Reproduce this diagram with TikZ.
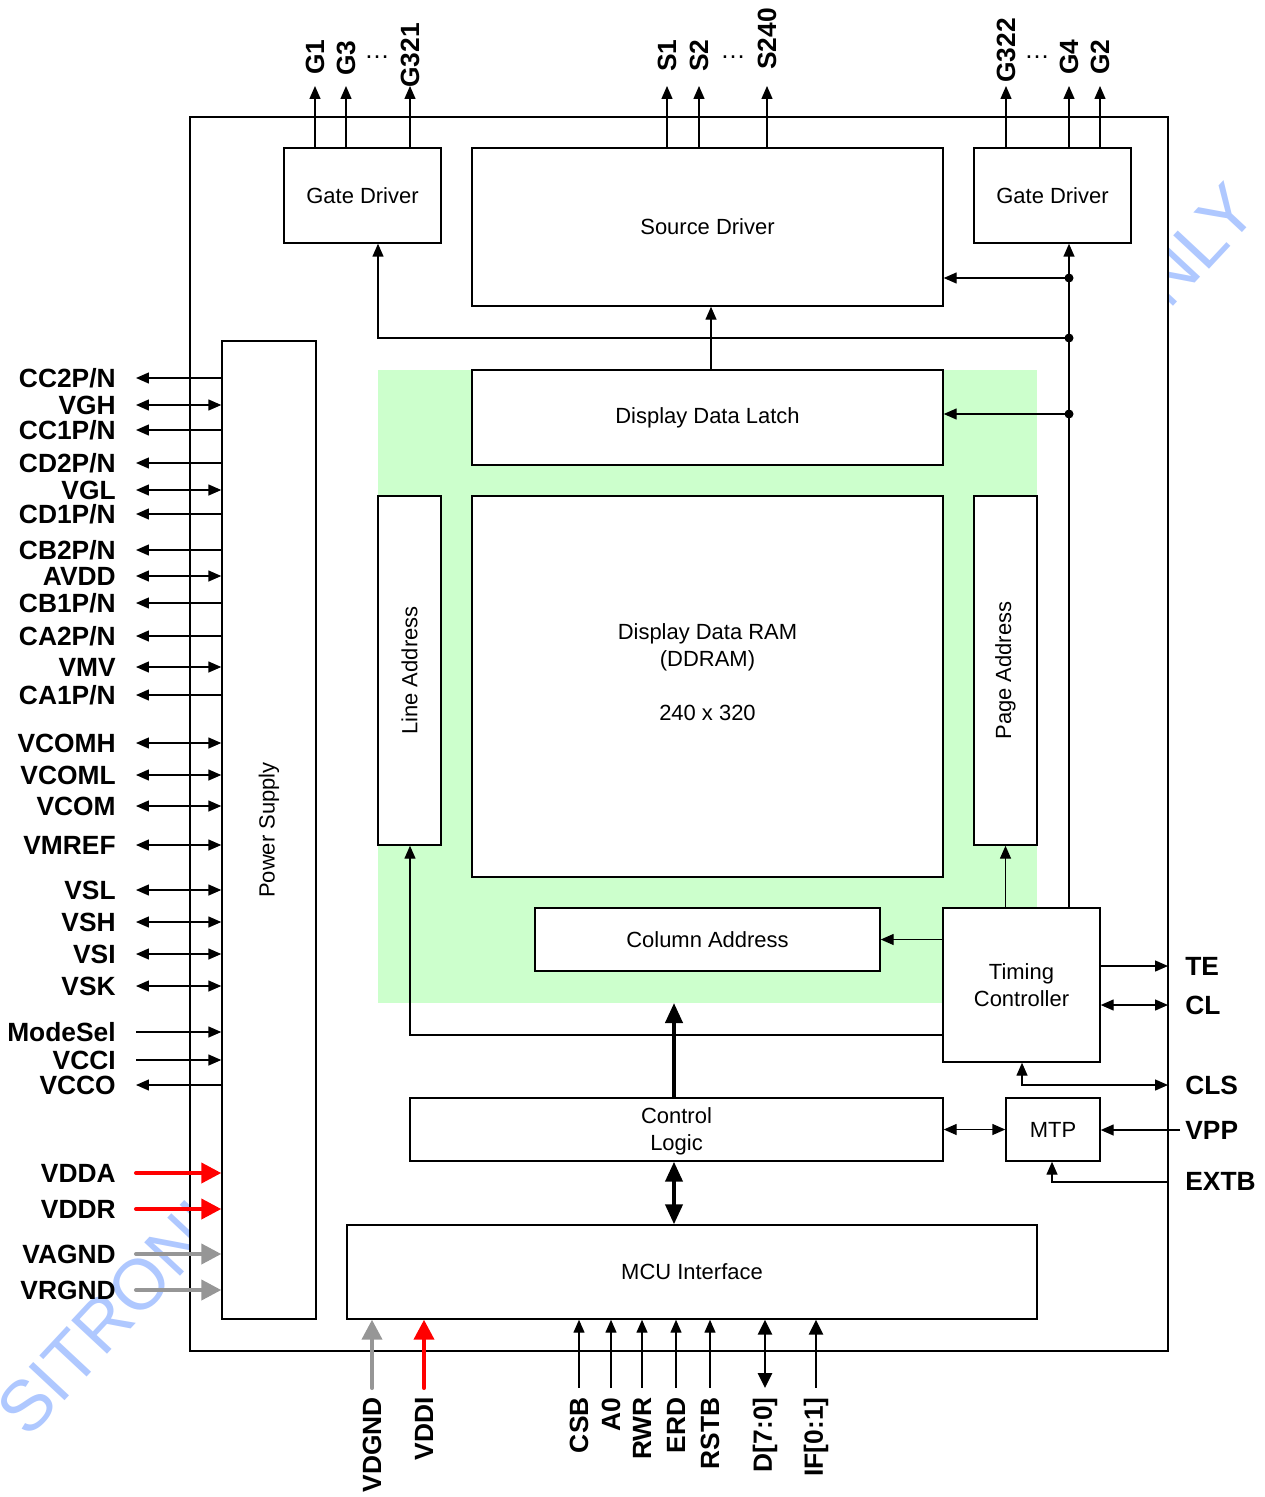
\documentclass[tikz,border=0pt]{standalone}
\usepackage{fontspec}
\setmainfont{Liberation Sans}
\usetikzlibrary{arrows.meta,fit}
\definecolor{wmblue}{RGB}{175,200,255}
\definecolor{pinred}{RGB}{255,0,0}
\definecolor{pingray}{RGB}{150,150,150}
\definecolor{ramgreen}{RGB}{204,255,204}
\tikzset{
  box/.style={draw, line width=0.8pt, fill=white, inner sep=0pt},
  lbl/.style={font=\fontsize{12.5}{15.5}\selectfont, align=center, inner sep=0pt},
  pinlab/.style={font=\fontsize{15}{17}\selectfont\bfseries, inner sep=0pt},
  wm/.style={text=wmblue, font=\fontsize{40.5}{41}\selectfont, inner sep=0pt},
  ln/.style={line width=0.8pt},
  arr/.style={ln, -{Triangle[length=0.26cm,width=0.22cm]}},
  rarr/.style={ln, {Triangle[length=0.26cm,width=0.22cm]}-},
  dbl/.style={ln, {Triangle[length=0.26cm,width=0.22cm]}-{Triangle[length=0.26cm,width=0.22cm]}},
  fatred/.style={line width=2.3pt, draw=pinred, line cap=round, {Triangle[length=0.4cm,width=0.4cm]}-},
  fatgray/.style={line width=2.3pt, draw=pingray, line cap=round, {Triangle[length=0.4cm,width=0.4cm]}-},
  thickarr/.style={line width=2.3pt, -{Triangle[length=0.4cm,width=0.34cm]}},
  thickdbl/.style={line width=2.3pt, {Triangle[length=0.4cm,width=0.34cm]}-{Triangle[length=0.4cm,width=0.34cm]}},
  medarr/.style={line width=1.5pt, {Triangle[length=0.3cm,width=0.28cm]}-},
  meddbl/.style={line width=1.5pt, {Triangle[length=0.3cm,width=0.28cm]}-{Triangle[length=0.3cm,width=0.28cm]}},
  jdot/.style={fill=black}
}
\begin{document}
\begin{tikzpicture}[x=0.02cm, y=-0.02cm]
\useasboundingbox (0,0) rectangle (1264,1497);
\fill[white] (0,0) rectangle (1264,1497);

% watermark (partly hidden by the chip outline)
\node[wm, rotate=47, anchor=base west] (wm1) at (28,1440) {SITRONIX};
\node[wm, rotate=47, anchor=base east] (wm2) at (1261,213) {ONLY};

% chip outline
\node[box, fit={(190,117) (1168,1351)}] (chip) {};
% RAM area
\fill[ramgreen] (378,370) rectangle (1037,1003);

% blocks
\node[box, fit={(284,148) (441,243)}] (gdl) {};
\node[lbl] (gdlT) at (gdl) {Gate Driver};
\node[box, fit={(974,148) (1131,243)}] (gdr) {};
\node[lbl] (gdrT) at (gdr) {Gate Driver};
\node[box, fit={(472,148) (943,306)}] (src) {};
\node[lbl] (srcT) at (src) {Source Driver};
\node[box, fit={(222,341) (316,1319)}] (ps) {};
\node[lbl, rotate=90] (psT) at (ps) {Power Supply};
\node[box, fit={(472,370) (943,465)}] (ddl) {};
\node[lbl] (ddlT) at (ddl) {Display Data Latch};
\node[box, fit={(378,496) (441,845)}] (la) {};
\node[lbl, rotate=90] (laT) at (la) {Line Address};
\node[box, fit={(472,496) (943,877)}] (ram) {};
\node[lbl] (ramT) at (707.5,672) {Display Data RAM\\(DDRAM)\\[15pt]240 x 320};
\node[box, fit={(974,496) (1037,845)}] (pa) {};
\node[lbl, rotate=90] (paT) at (pa) {Page Address};
\node[box, fit={(535,908) (880,971)}] (col) {};
\node[lbl] (colT) at (col) {Column Address};
\node[box, fit={(943,908) (1100,1062)}] (tc) {};
\node[lbl] (tcT) at (tc) {Timing\\Controller};
\node[box, fit={(410,1098) (943,1161)}] (cl) {};
\node[lbl] (clT) at (676.5,1131.5) {Control\\Logic};
\node[box, fit={(1006,1098) (1100,1161)}] (mtp) {};
\node[lbl] (mtpT) at (mtp) {MTP};
\node[box, fit={(347,1225) (1037,1319)}] (mcu) {};
\node[lbl] (mcuT) at (mcu) {MCU Interface};

% top outputs
\foreach \x/\t/\yb/\n in {315/G1/75/a, 346/G3/76/b, 410/G321/88/c, 667/S1/72/d, 699/S2/72/e, 767/S240/70/f, 1006/G322/83/g, 1069/G4/75/h, 1100/G2/75/i}{
  \coordinate (T\n) at (\x,86);
  \node[pinlab, rotate=90, anchor=west] (TL\n) at (\x,\yb) {\t};
}
\draw[arr] (Ta |- gdl.north) -- (Ta);
\draw[arr] (Tb |- gdl.north) -- (Tb);
\draw[arr] (Tc |- gdl.north) -- (Tc);
\draw[arr] (Td |- src.north) -- (Td);
\draw[arr] (Te |- src.north) -- (Te);
\draw[arr] (Tf |- src.north) -- (Tf);
\draw[arr] (Tg |- gdr.north) -- (Tg);
\draw[arr] (Th |- gdr.north) -- (Th);
\draw[arr] (Ti |- gdr.north) -- (Ti);
\node[pinlab, font=\fontsize{14.5}{17}\selectfont, anchor=base] (dots1) at (377,59) {\dots};
\node[pinlab, font=\fontsize{14.5}{17}\selectfont, anchor=base] (dots2) at (733,59) {\dots};
\node[pinlab, font=\fontsize{14.5}{17}\selectfont, anchor=base] (dots3) at (1037,59) {\dots};

% timing bus
\coordinate (j1) at (1069,278);
\coordinate (j2) at (1069,338);
\coordinate (j3) at (1069,414);
\coordinate (c1) at (378,338);
\draw[arr] (tc.north -| j1) -- (gdr.south -| j1);
\draw[arr] (j1) -- (src.east |- j1);
\draw[arr] (j3) -- (ddl.east |- j3);
\draw[arr] (j2) -- (c1) -- (c1 |- gdl.south);
\fill[jdot] (j1) circle [radius=0.09cm];
\fill[jdot] (j2) circle [radius=0.09cm];
\fill[jdot] (j3) circle [radius=0.09cm];

\coordinate (c0) at (711,338);
\draw[arr] (c0 |- ddl.north) -- (c0 |- src.south);
\draw[arr] (tc.north -| pa) -- (pa.south);
\draw[arr] (tc.west |- col) -- (col.east);
\coordinate (c2) at (410,1035);
\draw[arr] (tc.west |- c2) -- (c2) -- (c2 |- la.south);
\coordinate (c3) at (674,1003);
\draw[thickarr] (cl.north -| c3) -- (c3);
\draw[thickdbl] (cl.south -| c3) -- (mcu.north -| c3);
\draw[dbl] (cl.east) -- (mtp.west);

% right side pins
\coordinate (oTE) at (1168,966);
\coordinate (oCL) at (1168,1005);
\coordinate (oCLS) at (1168,1085);
\coordinate (oVPP) at (1180,1130);
\coordinate (oEXTB) at (1168,1182);
\coordinate (c4) at (1022,1085);
\coordinate (c5) at (1052,1182);
\draw[arr] (tc.east |- oTE) -- (oTE);
\draw[dbl] (tc.east |- oCL) -- (oCL);
\draw[dbl] (oCLS) -- (c4) -- (c4 |- tc.south);
\draw[arr] (oVPP) -- (mtp.east |- oVPP);
\draw[arr] (oEXTB) -- (c5) -- (c5 |- mtp.south);
\node[pinlab, anchor=base west] (rTE) at (1185,975) {TE};
\node[pinlab, anchor=base west] (rCL) at (1185,1014) {CL};
\node[pinlab, anchor=base west] (rCLS) at (1185,1094) {CLS};
\node[pinlab, anchor=base west] (rVPP) at (1185,1139) {VPP};
\node[pinlab, anchor=base west] (rEXTB) at (1185,1190) {EXTB};

% left side pins
\foreach \y/\t/\k [count=\i] in {378/{CC2P/N}/arr, 405/VGH/dbl, 430/{CC1P/N}/arr,
  463/{CD2P/N}/arr, 490/VGL/dbl, 514/{CD1P/N}/arr,
  550/{CB2P/N}/arr, 576/AVDD/dbl, 603/{CB1P/N}/arr,
  636/{CA2P/N}/arr, 667/VMV/dbl, 695/{CA1P/N}/arr,
  743/VCOMH/dbl, 775/VCOML/dbl, 806/VCOM/dbl, 845/VMREF/dbl,
  890/VSL/dbl, 922/VSH/dbl, 954/VSI/dbl, 986/VSK/dbl,
  1032/ModeSel/rarr, 1060/VCCI/rarr, 1085/VCCO/arr,
  1173/VDDA/fatred, 1209/VDDR/fatred, 1254/VAGND/fatgray, 1290/VRGND/fatgray}{
  \coordinate (P\i) at (136,\y);
  \node[pinlab, anchor=base east] (L\i) at (116,\y+9) {\t};
  \draw[\k] (ps.west |- P\i) -- (P\i);
}

% bottom pins
\foreach \x/\t/\k [count=\i] in {372/VDGND/fatgray, 424/VDDI/fatred, 579/CSB/rarr,
  611/A0/rarr, 642/RWR/rarr, 676/ERD/rarr, 710/RSTB/rarr, 765/{D[7:0]}/meddbl, 816/{IF[0:1]}/medarr}{
  \coordinate (B\i) at (\x,1388);
  \node[pinlab, rotate=90, anchor=east] (BL\i) at (\x,1397) {\t};
  \draw[\k] (B\i |- mcu.south) -- (B\i);
}
\end{tikzpicture}
\end{document}
